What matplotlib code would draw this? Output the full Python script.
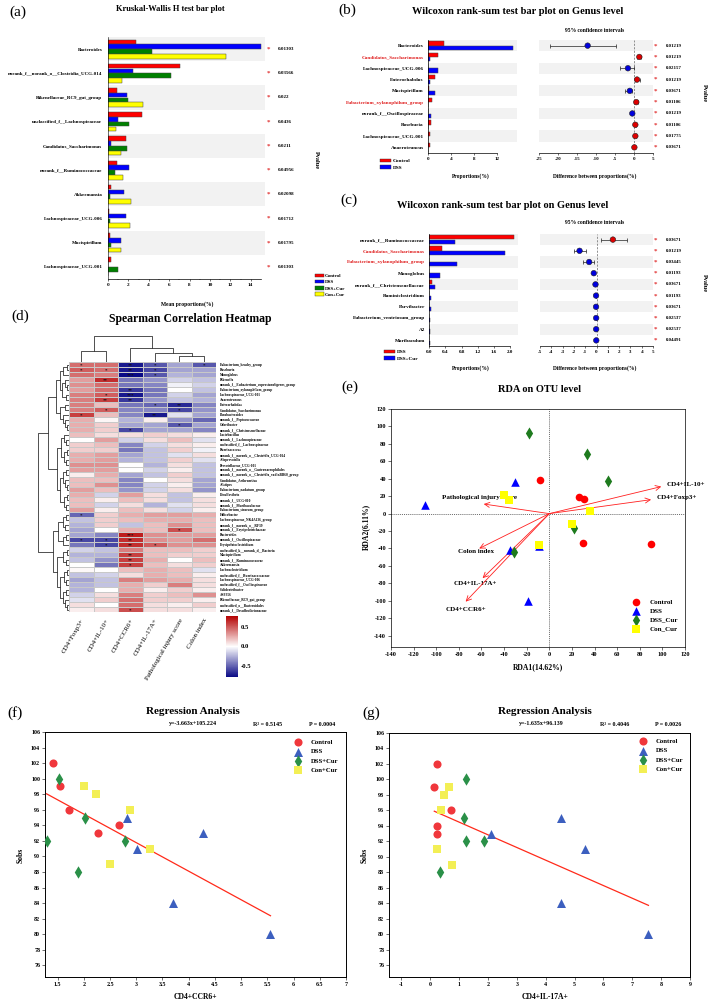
import numpy as np
import matplotlib
matplotlib.use('Agg')
import matplotlib.pyplot as plt
from matplotlib.patches import Patch
from matplotlib.colors import LinearSegmentedColormap

plt.rcParams['font.family'] = ['Liberation Serif', 'DejaVu Serif']
plt.rcParams['font.weight'] = 'bold'
plt.rcParams['axes.linewidth'] = 0.5
plt.rcParams['axes.unicode_minus'] = False
plt.rcParams['xtick.major.width'] = 0.4
plt.rcParams['ytick.major.width'] = 0.4
plt.rcParams['xtick.major.size'] = 1.5
plt.rcParams['ytick.major.size'] = 1.5

# ---------------- (a) Kruskal-Wallis ----------------
kw_taxa = ['Bacteroides', 'norank_f__norank_o__Clostridia_UCG-014', 'Rikenellaceae_RC9_gut_group',
           'unclassified_f__Lachnospiraceae', 'Candidatus_Saccharimonas', 'norank_f__Ruminococcaceae',
           'Akkermansia', 'Lachnospiraceae_UCG-006', 'Mucispirillum', 'Lachnospiraceae_UCG-001']
kw_control = [2.7, 7.1, 0.85, 3.3, 1.75, 0.9, 0.3, 0.05, 0.15, 0.33]
kw_dss = [15.0, 2.5, 1.9, 1.0, 0.33, 2.1, 1.6, 1.8, 1.3, 0.0]
kw_dsscur = [4.3, 6.2, 2.0, 2.1, 1.9, 0.65, 0.2, 0.15, 0.25, 1.0]
kw_concur = [11.6, 1.35, 3.4, 0.8, 1.3, 1.5, 2.3, 2.15, 1.3, 0.0]
kw_p = ['0.01303', '0.03566', '0.022', '0.0436', '0.0211', '0.04956', '0.02098', '0.01712', '0.01795', '0.01303']
kw_groups = ['Control', 'DSS', 'DSS+Cur', 'Con+Cur']

# ---------------- (b) Wilcoxon Control vs DSS ----------------
wb_taxa = ['Bacteroides', 'Candidatus_Saccharimonas', 'Lachnospiraceae_UCG-006', 'Enterorhabdus',
           'Mucispirillum', 'Eubacterium_xylanophilum_group', 'norank_f__Oscillospiraceae', 'Roseburia',
           'Lachnospiraceae_UCG-001', 'Anaerotruncus']
wb_control = [2.7, 1.75, 0.02, 1.15, 0.1, 0.65, 0.05, 0.45, 0.35, 0.3]
wb_dss = [14.8, 0.4, 1.75, 0.4, 1.2, 0.05, 0.45, 0.05, 0.02, 0.05]
wb_diff = [-12.2, 1.4, -1.6, 0.8, -1.1, 0.6, -0.45, 0.35, 0.35, 0.1]
wb_lo = [-22.1, 0.9, -3.8, 0.2, -2.5, 0.2, -0.7, 0.15, 0.1, 0.0]
wb_hi = [-4.8, 1.9, -0.1, 1.7, -0.4, 1.0, -0.2, 0.55, 0.6, 0.2]
wb_p = ['0.01219', '0.01219', '0.02157', '0.01219', '0.03671', '0.01106', '0.01219', '0.01106', '0.01775', '0.03671']
wb_groups = ['Control', 'DSS']

# ---------------- (c) Wilcoxon DSS vs DSS+Cur ----------------
wc_taxa = ['norank_f__Ruminococcaceae', 'Candidatus_Saccharimonas', 'Eubacterium_xylanophilum_group',
           'Monoglobus', 'norank_f__Christensenellaceae', 'Ruminiclostridium', 'Parvibacter',
           'Eubacterium_ventriosum_group', 'A2', 'Muribaculum']
wc_dss = [2.09, 0.33, 0.005, 0.01, 0.08, 0.0, 0.0, 0.0, 0.0, 0.0]
wc_dsscur = [0.645, 1.88, 0.69, 0.26, 0.14, 0.06, 0.05, 0.025, 0.025, 0.02]
wc_diff = [1.45, -1.5, -0.65, -0.24, -0.09, -0.04, -0.04, -0.03, -0.03, -0.02]
wc_lo = [0.38, -2.0, -1.2, -0.3, -0.12, -0.06, -0.06, -0.05, -0.05, -0.04]
wc_hi = [2.7, -0.95, -0.18, -0.18, -0.05, -0.02, -0.02, -0.01, -0.01, -0.01]
wc_p = ['0.03671', '0.01219', '0.03445', '0.01193', '0.03671', '0.01193', '0.03671', '0.02537', '0.02537', '0.04491']
wc_groups = ['DSS', 'DSS+Cur']
red_label_taxa = ['Candidatus_Saccharimonas', 'Eubacterium_xylanophilum_group']

# ---------------- (d) Spearman heatmap ----------------
hm_cols = ['CD4+Foxp3+', 'CD4+IL-10+', 'CD4+CCR6+', 'CD4+IL-17A+', 'Pathological injury score', 'Colon index']
hm_rows = ['Eubacterium_brachy_group', 'Roseburia', 'Monoglobus', 'Rikenella',
           'norank_f__Eubacterium_coprostanoligenes_group', 'Eubacterium_xylanophilum_group',
           'Lachnospiraceae_UCG-001', 'Anaerotruncus', 'Enterorhabdus', 'Candidatus_Saccharimonas',
           'Parabacteroides', 'norank_f__Peptococcaceae', 'Odoribacter', 'norank_f__Christensenellaceae',
           'Lactobacillus', 'norank_f__Lachnospiraceae', 'unclassified_f__Lachnospiraceae', 'Ruminococcus',
           'norank_f__norank_o__Clostridia_UCG-014', 'Alloprevotella', 'Prevotellaceae_UCG-001',
           'norank_f__norank_o__Gastranaerophilales', 'norank_f__norank_o__Clostridia_vadinBB60_group',
           'Candidatus_Arthromitus', 'Alistipes', 'Eubacterium_nodatum_group', 'Desulfovibrio',
           'norank_f__UCG-010', 'norank_f__Muribaculaceae', 'Eubacterium_siraeum_group', 'Helicobacter',
           'Lachnospiraceae_NK4A136_group', 'norank_f__norank_o__RF39', 'norank_f__Erysipelotrichaceae',
           'Bacteroides', 'norank_f__Oscillospiraceae', 'Erysipelatoclostridium',
           'unclassified_k__norank_d__Bacteria', 'Mucispirillum', 'norank_f__Ruminococcaceae',
           'Akkermansia', 'Lachnoclostridium', 'unclassified_f__Ruminococcaceae', 'Lachnospiraceae_UCG-006',
           'unclassified_f__Oscillospiraceae', 'Colidextribacter', 'ASF356', 'Rikenellaceae_RC9_gut_group',
           'unclassified_o__Bacteroidales', 'norank_f__Desulfovibrionaceae']
hm_vals = [
    [0.45, 0.45, -0.75, -0.55, -0.30, -0.55],
    [0.50, 0.45, -0.75, -0.60, -0.30, -0.30],
    [0.45, 0.40, -0.80, -0.55, -0.25, -0.30],
    [0.30, 0.65, -0.45, -0.35, -0.15, -0.20],
    [0.35, 0.45, -0.45, -0.40, -0.05, -0.15],
    [0.30, 0.45, -0.65, -0.45, 0.00, -0.20],
    [0.40, 0.50, -0.75, -0.45, -0.15, -0.30],
    [0.40, 0.60, -0.65, -0.35, -0.20, -0.25],
    [0.40, 0.20, -0.45, -0.50, -0.70, -0.40],
    [0.40, 0.50, -0.40, -0.40, -0.60, -0.35],
    [0.60, 0.20, -0.40, -0.75, -0.10, -0.30],
    [0.25, 0.03, -0.25, 0.05, -0.35, -0.50],
    [0.25, 0.15, -0.30, -0.30, -0.55, -0.30],
    [0.25, 0.15, -0.60, -0.30, -0.30, -0.40],
    [0.20, 0.10, 0.10, 0.15, 0.10, 0.05],
    [0.00, 0.30, -0.15, 0.10, 0.20, -0.10],
    [0.15, 0.20, -0.40, -0.15, 0.10, 0.05],
    [0.15, 0.15, -0.45, -0.20, 0.15, -0.05],
    [0.25, 0.30, -0.30, -0.20, -0.10, 0.10],
    [0.25, 0.30, -0.25, -0.20, 0.15, -0.10],
    [0.35, 0.35, 0.00, -0.25, 0.10, -0.20],
    [0.30, 0.30, 0.00, -0.15, 0.05, -0.20],
    [0.05, 0.25, -0.30, -0.20, 0.15, -0.20],
    [0.20, 0.20, -0.40, 0.00, 0.10, -0.30],
    [0.20, 0.35, -0.40, -0.15, 0.05, -0.30],
    [0.30, 0.20, -0.35, -0.15, 0.10, -0.35],
    [0.25, -0.15, 0.30, 0.10, -0.20, 0.05],
    [0.20, 0.05, 0.20, 0.10, -0.20, 0.10],
    [0.20, -0.15, 0.10, -0.25, -0.10, 0.10],
    [0.30, 0.05, 0.20, 0.10, -0.15, 0.05],
    [-0.50, 0.15, 0.25, 0.30, 0.30, 0.25],
    [-0.20, 0.15, 0.20, 0.25, 0.25, 0.20],
    [-0.25, 0.15, -0.20, 0.20, 0.35, 0.20],
    [-0.30, 0.00, 0.25, 0.20, 0.55, 0.20],
    [-0.30, -0.40, 0.70, 0.35, 0.30, 0.30],
    [-0.60, -0.60, 0.65, 0.35, 0.30, 0.45],
    [-0.45, -0.60, 0.65, 0.50, 0.35, 0.35],
    [-0.15, -0.20, 0.40, 0.20, 0.20, 0.15],
    [-0.25, -0.25, 0.60, 0.20, 0.15, 0.15],
    [-0.20, -0.35, 0.60, 0.25, 0.00, 0.20],
    [0.00, -0.45, 0.60, 0.20, 0.10, 0.15],
    [0.02, 0.00, 0.20, 0.25, 0.20, -0.10],
    [-0.20, -0.15, 0.10, 0.25, 0.20, 0.05],
    [-0.30, -0.20, 0.40, 0.30, 0.25, 0.10],
    [-0.25, -0.20, 0.25, 0.15, 0.40, 0.10],
    [-0.25, 0.00, 0.25, 0.05, 0.15, 0.05],
    [-0.15, 0.10, 0.40, 0.15, 0.20, 0.35],
    [-0.10, 0.15, 0.45, 0.15, 0.15, 0.05],
    [0.10, 0.00, 0.45, 0.10, 0.05, 0.15],
    [0.05, 0.10, 0.55, 0.10, 0.10, 0.05],
]
hm_stars = [(0, 0, '*'), (0, 2, '**'), (0, 3, '*'), (0, 5, '*'),
            (1, 0, '*'), (1, 1, '*'), (1, 2, '**'), (1, 3, '*'),
            (2, 2, '***'), (2, 3, '*'), (3, 1, '**'), (5, 2, '**'),
            (6, 1, '*'), (6, 2, '***'), (7, 1, '**'), (7, 2, '**'),
            (8, 3, '*'), (8, 4, '**'), (9, 1, '*'), (9, 4, '*'),
            (10, 0, '*'), (10, 3, '**'), (12, 4, '*'), (13, 2, '*'),
            (30, 0, '*'), (33, 4, '*'), (34, 2, '***'),
            (35, 0, '*'), (35, 1, '*'), (35, 2, '**'),
            (36, 1, '*'), (36, 2, '**'), (36, 3, '*'),
            (38, 2, '**'), (39, 2, '**'), (40, 2, '*'), (49, 2, '*')]
# cluster trees: (height, left, right), leaves are row / column indices
col_tree = (69, (29, 0, 1), (39, 2, (25, 3, (17, 4, 5))))
row_tree = (1.0,
            (0.67,
             (0.42,
              (0.30, (0.18, (0.08, 0, 1), 2), (0.22, (0.14, 3, (0.07, 4, 5)), (0.10, 6, 7))),
              (0.28, (0.12, 8, 9), (0.20, 10, (0.13, 11, (0.06, 12, 13))))),
             (0.40,
              (0.26, (0.15, 14, (0.09, 15, 16)), (0.17, (0.08, 17, 18), (0.10, 19, 20))),
              (0.30, (0.20, (0.09, 21, 22), (0.14, 23, (0.07, 24, 25))),
               (0.16, (0.08, 26, 27), (0.10, 28, 29))))),
            (0.53,
             (0.35, (0.20, (0.10, 30, 31), (0.12, 32, 33)), (0.18, (0.10, 34, 35), 36)),
             (0.38, (0.20, (0.08, 37, 38), (0.11, 39, 40)),
              (0.28, (0.17, (0.07, 41, 42), (0.10, 43, 44)),
               (0.20, (0.09, 45, 46), (0.13, 47, (0.06, 48, 49)))))))

# ---------------- (e) RDA ----------------
rda_groups = ['Control', 'DSS', 'DSS_Cur', 'Con_Cur']
rda_x = [[-8, 26, 31, 30, 90], [-30, -110, -35, -9, -19], [-18, 33, 52, 22, -31], [-40, -36, 36, 20, -9]]
rda_y = [[38, 19, 17, -34, -35], [36, 10, -42, -37, -100], [93, 68, 37, -16, -44], [21, 16, 3, -12, -36]]
env_names = ['CD4+IL-10+', 'CD4+Foxp3+', 'Pathological injury score', 'Colon index', 'CD4+IL-17A+', 'CD4+CCR6+']
env_x = [99, 90, -58, -62, -59, -74]
env_y = [31, 16, 11, -40, -74, -101]
env_lab_x = [104, 95, -95, -81, -85, -92]
env_lab_y = [33, 19, 19, -43, -80, -110]

# ---------------- (f), (g) regression ----------------
reg_groups = ['Control', 'DSS', 'DSS+Cur', 'Con+Cur']
f_x = [[1.42, 1.55, 1.72, 2.28, 2.68], [2.82, 3.02, 3.71, 4.27, 5.56],
       [1.29, 1.52, 2.02, 1.89, 2.79], [2.01, 2.23, 2.49, 2.88, 3.27]]
f_y = [[102, 99, 96, 93, 94], [95, 91, 84, 93, 80], [92, 100, 95, 88, 92], [99, 98, 89, 96, 91]]
g_x = [[0.22, 0.14, 0.73, 0.23, 0.25], [4.53, 5.35, 2.10, 4.52, 7.56],
       [1.25, 1.17, 1.25, 1.87, 0.33], [0.65, 0.48, 0.36, 0.24, 0.74]]
g_y = [[102, 99, 96, 94, 93], [95, 91, 93, 84, 80], [100, 95, 92, 92, 88], [99, 98, 96, 91, 89]]
f_eq = ['y=-3.663x+105.224', 'R\u00b2 = 0.5145', 'P = 0.0004']
g_eq = ['y=-1.635x+96.139', 'R\u00b2 = 0.4046', 'P = 0.0026']

# =============================================================
W, H = 709, 1000
fig = plt.figure(figsize=(7.09, 10), dpi=100)


def box(x0, y0, x1, y1):
    return [x0 / W, 1 - y1 / H, (x1 - x0) / W, (y1 - y0) / H]


def ftxt(x, y, s, **kw):
    kw.setdefault('ha', 'center')
    kw.setdefault('va', 'center')
    return fig.text(x / W, 1 - y / H, s, **kw)


band_col = '#f2f2f2'

# panel letters
for lx, ly, lab in [(18, 12, '(a)'), (347, 10, '(b)'), (349, 200, '(c)'), (20, 316, '(d)'),
                    (350, 387, '(e)'), (15, 713, '(f)'), (371, 713, '(g)')]:
    ftxt(lx, ly, lab, fontsize=11, fontweight='normal')

# ---------------- (a) ----------------
ax = fig.add_axes(box(108, 37, 265, 279))
cols_a = ['#ff0000', '#0000ff', '#008000', '#ffff00']
n = len(kw_taxa)
pos = np.arange(n)
for i in range(0, n, 2):
    ax.axhspan(i - 0.5, i + 0.5, color=band_col, zorder=0, lw=0)
for k, (vals, c) in enumerate(zip([kw_control, kw_dss, kw_dsscur, kw_concur], cols_a)):
    ax.barh(pos - 0.3 + 0.2 * k, vals, height=0.19, color=c, edgecolor='#444444', lw=0.35, zorder=2)
ax.set_ylim(n - 0.5, -0.5)
ax.set_xlim(0, 15.4)
ax.set_yticks(pos)
ax.set_yticklabels(kw_taxa, fontsize=3.6)
ax.tick_params(axis='y', length=0, pad=4)
ax.set_xticks(np.arange(0, 15, 2))
ax.set_xticks(np.arange(1, 15, 2), minor=True)
ax.tick_params(axis='x', labelsize=3.8, pad=1.5)
ax.tick_params(axis='x', which='minor', length=1, width=0.3)
for s in ['top', 'right']:
    ax.spines[s].set_visible(False)
ax.spines['bottom'].set_bounds(0, 15)
ax.spines['left'].set_linewidth(0.4)
tr = ax.get_yaxis_transform()
for i, p in enumerate(kw_p):
    ax.text(1.013, i, '*', transform=tr, color='#e03030', fontsize=5, ha='left', va='center')
    ax.text(1.083, i, p, transform=tr, fontsize=3.6, ha='left', va='center')
ftxt(187, 304, 'Mean proportions(%)', fontsize=4)
ftxt(316, 160, 'Pvalue', fontsize=4.5, rotation=-90)
ftxt(170, 9, 'Kruskal-Wallis H test bar plot', fontsize=6)
fig.legend(handles=[Patch(facecolor=c, edgecolor='#333333', lw=0.3, label=g) for c, g in zip(cols_a, kw_groups)],
           loc='upper left', bbox_to_anchor=(312 / W, 1 - 271 / H), frameon=False, fontsize=3.6,
           handlelength=1.9, handleheight=0.7, labelspacing=0.35, borderpad=0, handletextpad=0.1)


# ---------------- (b), (c) Wilcoxon ----------------
def wilcoxon_panel(x_bar, x_ci, y0, y1, taxa, v1, v2, diff, lo, hi, pvals, groups, bar_xlim, bar_ticks,
                   bar_ticklabels, ci_xlim, ci_ticks, title_xy, ci_title_y, leg_xy, xlabel_y, pval_y):
    n = len(taxa)
    pos = np.arange(n)
    axb = fig.add_axes(box(x_bar[0], y0, x_bar[1], y1))
    axc = fig.add_axes(box(x_ci[0], y0, x_ci[1], y1))
    for a in (axb, axc):
        for i in range(0, n, 2):
            a.axhspan(i - 0.5, i + 0.5, color=band_col, zorder=0, lw=0)
        a.set_ylim(n - 0.5, -0.5)
        for s in ['top', 'right']:
            a.spines[s].set_visible(False)
        a.tick_params(axis='x', labelsize=3.6, pad=1.5)
    axb.barh(pos - 0.2, v1, height=0.38, color='#ff0000', edgecolor='#444444', lw=0.35, zorder=2)
    axb.barh(pos + 0.2, v2, height=0.38, color='#0000ff', edgecolor='#444444', lw=0.35, zorder=2)
    axb.set_xlim(*bar_xlim)
    axb.set_xticks(bar_ticks)
    axb.set_xticklabels(bar_ticklabels)
    axb.spines['bottom'].set_bounds(0, bar_ticks[-1])
    axb.set_yticks(pos)
    axb.set_yticklabels(taxa, fontsize=3.7)
    axb.tick_params(axis='y', length=0, pad=3)
    for lab in axb.get_yticklabels():
        if lab.get_text() in red_label_taxa:
            lab.set_color('#e02020')
    d = np.array(diff)
    axc.errorbar(d, pos, xerr=[d - np.array(lo), np.array(hi) - d], fmt='none', ecolor='#222222',
                 elinewidth=0.5, capsize=1.6, capthick=0.5, zorder=3)
    axc.scatter(d, pos, s=16, c=['#dd0000' if v > 0 else '#0000dd' for v in d], edgecolors='#222222',
                linewidths=0.4, zorder=4)
    axc.axvline(0, color='#666666', lw=0.5, ls=(0, (3, 2)), zorder=1)
    axc.set_xlim(*ci_xlim)
    axc.set_xticks(ci_ticks)
    axc.set_yticks([])
    axc.spines['left'].set_visible(False)
    tr = axc.get_yaxis_transform()
    for i, p in enumerate(pvals):
        axc.text(1.005, i, '*', transform=tr, color='#e03030', fontsize=5, ha='left', va='center')
        axc.text(1.11, i, p, transform=tr, fontsize=3.5, ha='left', va='center')
    ftxt(*title_xy, 'Wilcoxon rank-sum test bar plot on Genus level', fontsize=7.5)
    ftxt(595, ci_title_y, '95% confidence intervals', fontsize=4)
    ftxt(471, xlabel_y, 'Proportions(%)', fontsize=4)
    ftxt(595, xlabel_y, 'Difference between proportions(%)', fontsize=4)
    ftxt(704, pval_y, 'Pvalue', fontsize=4.5, rotation=-90)
    fig.legend(handles=[Patch(facecolor=c, edgecolor='#333333', lw=0.3, label=g)
                        for c, g in zip(['#ff0000', '#0000ff'], groups)],
               loc='upper left', bbox_to_anchor=(leg_xy[0] / W, 1 - leg_xy[1] / H), frameon=False,
               fontsize=3.8, handlelength=2.2, handleheight=0.7, labelspacing=0.35, borderpad=0,
               handletextpad=0.3)


wilcoxon_panel((428, 517), (539, 653), 40, 153, wb_taxa, wb_control, wb_dss, wb_diff, wb_lo, wb_hi, wb_p,
               wb_groups, (0, 15.5), [0, 4, 8, 12], ['0', '4', '8', '12'], (-25, 5),
               [-25, -20, -15, -10, -5, 0, 5], (518, 12), 31, (377, 156), 176, 93)
wilcoxon_panel((429, 518), (540, 653), 234, 346, wc_taxa, wc_dss, wc_dsscur, wc_diff, wc_lo, wc_hi, wc_p,
               wc_groups, (0, 2.19), [0, 0.4, 0.8, 1.2, 1.6, 2.0], ['0.0', '0.4', '0.8', '1.2', '1.6', '2.0'],
               (-5, 5), list(range(-5, 6)), (503, 205), 222, (381, 347), 368, 283)

# ---------------- (d) heatmap ----------------
cmap = LinearSegmentedColormap.from_list('bwr_hm', ['#0a0a86', '#ffffff', '#b40000'])
V = np.array(hm_vals)
axh = fig.add_axes(box(69, 362, 216, 612))
mesh = axh.pcolormesh(np.arange(V.shape[1] + 1) - 0.5, np.arange(V.shape[0] + 1) - 0.5, V, cmap=cmap,
                      vmin=-0.8, vmax=0.8, edgecolors='#c8c8c8', linewidth=0.4)
axh.set_ylim(V.shape[0] - 0.5, -0.5)
axh.set_xlim(-0.5, V.shape[1] - 0.5)
for s in axh.spines.values():
    s.set_visible(False)
axh.yaxis.tick_right()
axh.set_yticks(np.arange(len(hm_rows)))
axh.set_yticklabels(hm_rows, fontsize=2.5)
axh.tick_params(axis='y', length=0, pad=3)
axh.set_xticks(np.arange(len(hm_cols)))
axh.set_xticklabels(hm_cols, rotation=60, ha='right', rotation_mode='anchor', fontsize=5,
                    fontweight='normal')
axh.tick_params(axis='x', length=0, pad=4)
for r, c, s in hm_stars:
    axh.text(c, r + 0.15, s, ha='center', va='center', fontsize=3.6, color='#111111')


def draw_tree(a, node, orient):
    def rec(nd):
        if isinstance(nd, int):
            return float(nd), 0.0
        h, l, r = nd
        pl, hl = rec(l)
        pr, hr = rec(r)
        xs, ys = [pl, pl, pr, pr], [hl, h, h, hr]
        if orient == 'left':
            a.plot(ys, xs, color='#333333', lw=0.6)
        else:
            a.plot(xs, ys, color='#333333', lw=0.6)
        return (pl + pr) / 2, h
    rec(node)
    a.axis('off')


axcd = fig.add_axes(box(69, 336, 216, 362))
draw_tree(axcd, col_tree, 'top')
axcd.set_xlim(-0.5, 5.5)
axcd.set_ylim(0, 70)
axrd = fig.add_axes(box(38, 362, 69, 612))
draw_tree(axrd, row_tree, 'left')
axrd.set_xlim(1.01, 0)
axrd.set_ylim(49.5, -0.5)
axcb = fig.add_axes(box(226, 616, 238, 677))
cb = fig.colorbar(mesh, cax=axcb, ticks=[-0.5, 0, 0.5])
cb.ax.tick_params(labelsize=4.8, length=0, pad=2)
cb.outline.set_visible(False)
ftxt(190, 319, 'Spearman Correlation Heatmap', fontsize=8.5)

# ---------------- (e) RDA ----------------
axe = fig.add_axes(box(391, 409, 685, 647))
rda_cols = ['#ff0000', '#0000ff', '#1e7b1e', '#ffff00']
rda_marks = ['o', '^', 'd', 's']
rda_sizes = [30, 38, 38, 26]
for gx, gy, c, m, sz, g in zip(rda_x, rda_y, rda_cols, rda_marks, rda_sizes, rda_groups):
    axe.scatter(gx, gy, c=c, marker=m, s=sz, label=g, zorder=4, linewidths=0)
for ex, ey, nm, lx, ly in zip(env_x, env_y, env_names, env_lab_x, env_lab_y):
    axe.annotate('', xy=(ex, ey), xytext=(0, 0),
                 arrowprops=dict(arrowstyle='->', color='#ff2020', lw=0.6, mutation_scale=9,
                                 shrinkA=0, shrinkB=0), zorder=3)
    axe.text(lx, ly, nm, fontsize=5, ha='left', va='center', zorder=2)
axe.axhline(0, color='#333333', lw=0.5, ls=(0, (1.5, 1.5)), zorder=1)
axe.axvline(0, color='#333333', lw=0.5, ls=(0, (1.5, 1.5)), zorder=1)
axe.set_xlim(-140, 120)
axe.set_ylim(-153, 120)
axe.set_xticks(np.arange(-140, 121, 20))
axe.set_yticks(np.arange(-140, 121, 20))
axe.tick_params(labelsize=4.6, length=2, pad=1.5)
axe.legend(loc='lower right', bbox_to_anchor=(0.99, 0.05), frameon=False, fontsize=5, markerscale=1.0,
           handletextpad=1.0, labelspacing=0.45, borderpad=0)
ftxt(538, 667, 'RDA1(14.62%)', fontsize=5.5)
ftxt(366, 527, 'RDA2(6.11%)', fontsize=5.5, rotation=90)
ftxt(539, 389, 'RDA on OTU level', fontsize=7.5)


# ---------------- (f), (g) regression ----------------
def reg_panel(bx, xs, ys, xlim, xticks, title_x, eq, eq_x, leg_xy, xlabel, xlabel_x, ylab_x):
    a = fig.add_axes(box(*bx))
    cols = ['#f0373c', '#3c5fbf', '#2a9048', '#f3ef55']
    marks = ['o', '^', 'd', 's']
    sizes = [34, 42, 40, 30]
    for gx, gy, c, m, sz, g in zip(xs, ys, cols, marks, sizes, reg_groups):
        a.scatter(gx, gy, c=c, marker=m, s=sz, label=g, zorder=3, linewidths=0)
    allx = np.concatenate([np.array(v) for v in xs])
    ally = np.concatenate([np.array(v) for v in ys])
    k, b = np.polyfit(allx, ally, 1)
    lx = np.array([allx.min(), allx.max()])
    a.plot(lx, k * lx + b, color='#ff2a1a', lw=0.9, zorder=2)
    a.set_xlim(*xlim)
    a.set_ylim(74.5, 106)
    a.set_xticks(xticks)
    a.set_xticklabels([('%g' % t) for t in xticks])
    a.set_yticks(np.arange(76, 107, 2))
    a.tick_params(labelsize=4.3, length=2, pad=1.5)
    for s in a.spines.values():
        s.set_linewidth(0.7)
    a.legend(loc='upper left', bbox_to_anchor=(leg_xy[0], leg_xy[1]), bbox_transform=fig.transFigure,
             frameon=False, fontsize=4.8, handletextpad=0.9, labelspacing=0.55, borderpad=0)
    ftxt(title_x, 712, 'Regression Analysis', fontsize=8)
    for t, ex in zip(eq, eq_x):
        ftxt(ex, 724, t, fontsize=4.3)
    ftxt(xlabel_x, 997, xlabel, fontsize=5.5)
    ftxt(ylab_x, 855, 'Sobs', fontsize=5.5, rotation=90)
    return a


reg_panel((45, 732, 346, 977), f_x, f_y, (1.26, 7), [1.5, 2, 2.5, 3, 3.5, 4, 4.5, 5, 5.5, 6, 6.5, 7], 193,
          f_eq, [193, 268, 322], (288 / W, 1 - 736 / H), 'CD4+CCR6+', 195, 21)
reg_panel((389, 733, 690, 977), g_x, g_y, (-1.43, 9), list(range(-1, 10)), 545,
          g_eq, [541, 615, 668], (633 / W, 1 - 735 / H), 'CD4+IL-17A+', 545, 365)

fig.savefig('out.png', dpi=100)
